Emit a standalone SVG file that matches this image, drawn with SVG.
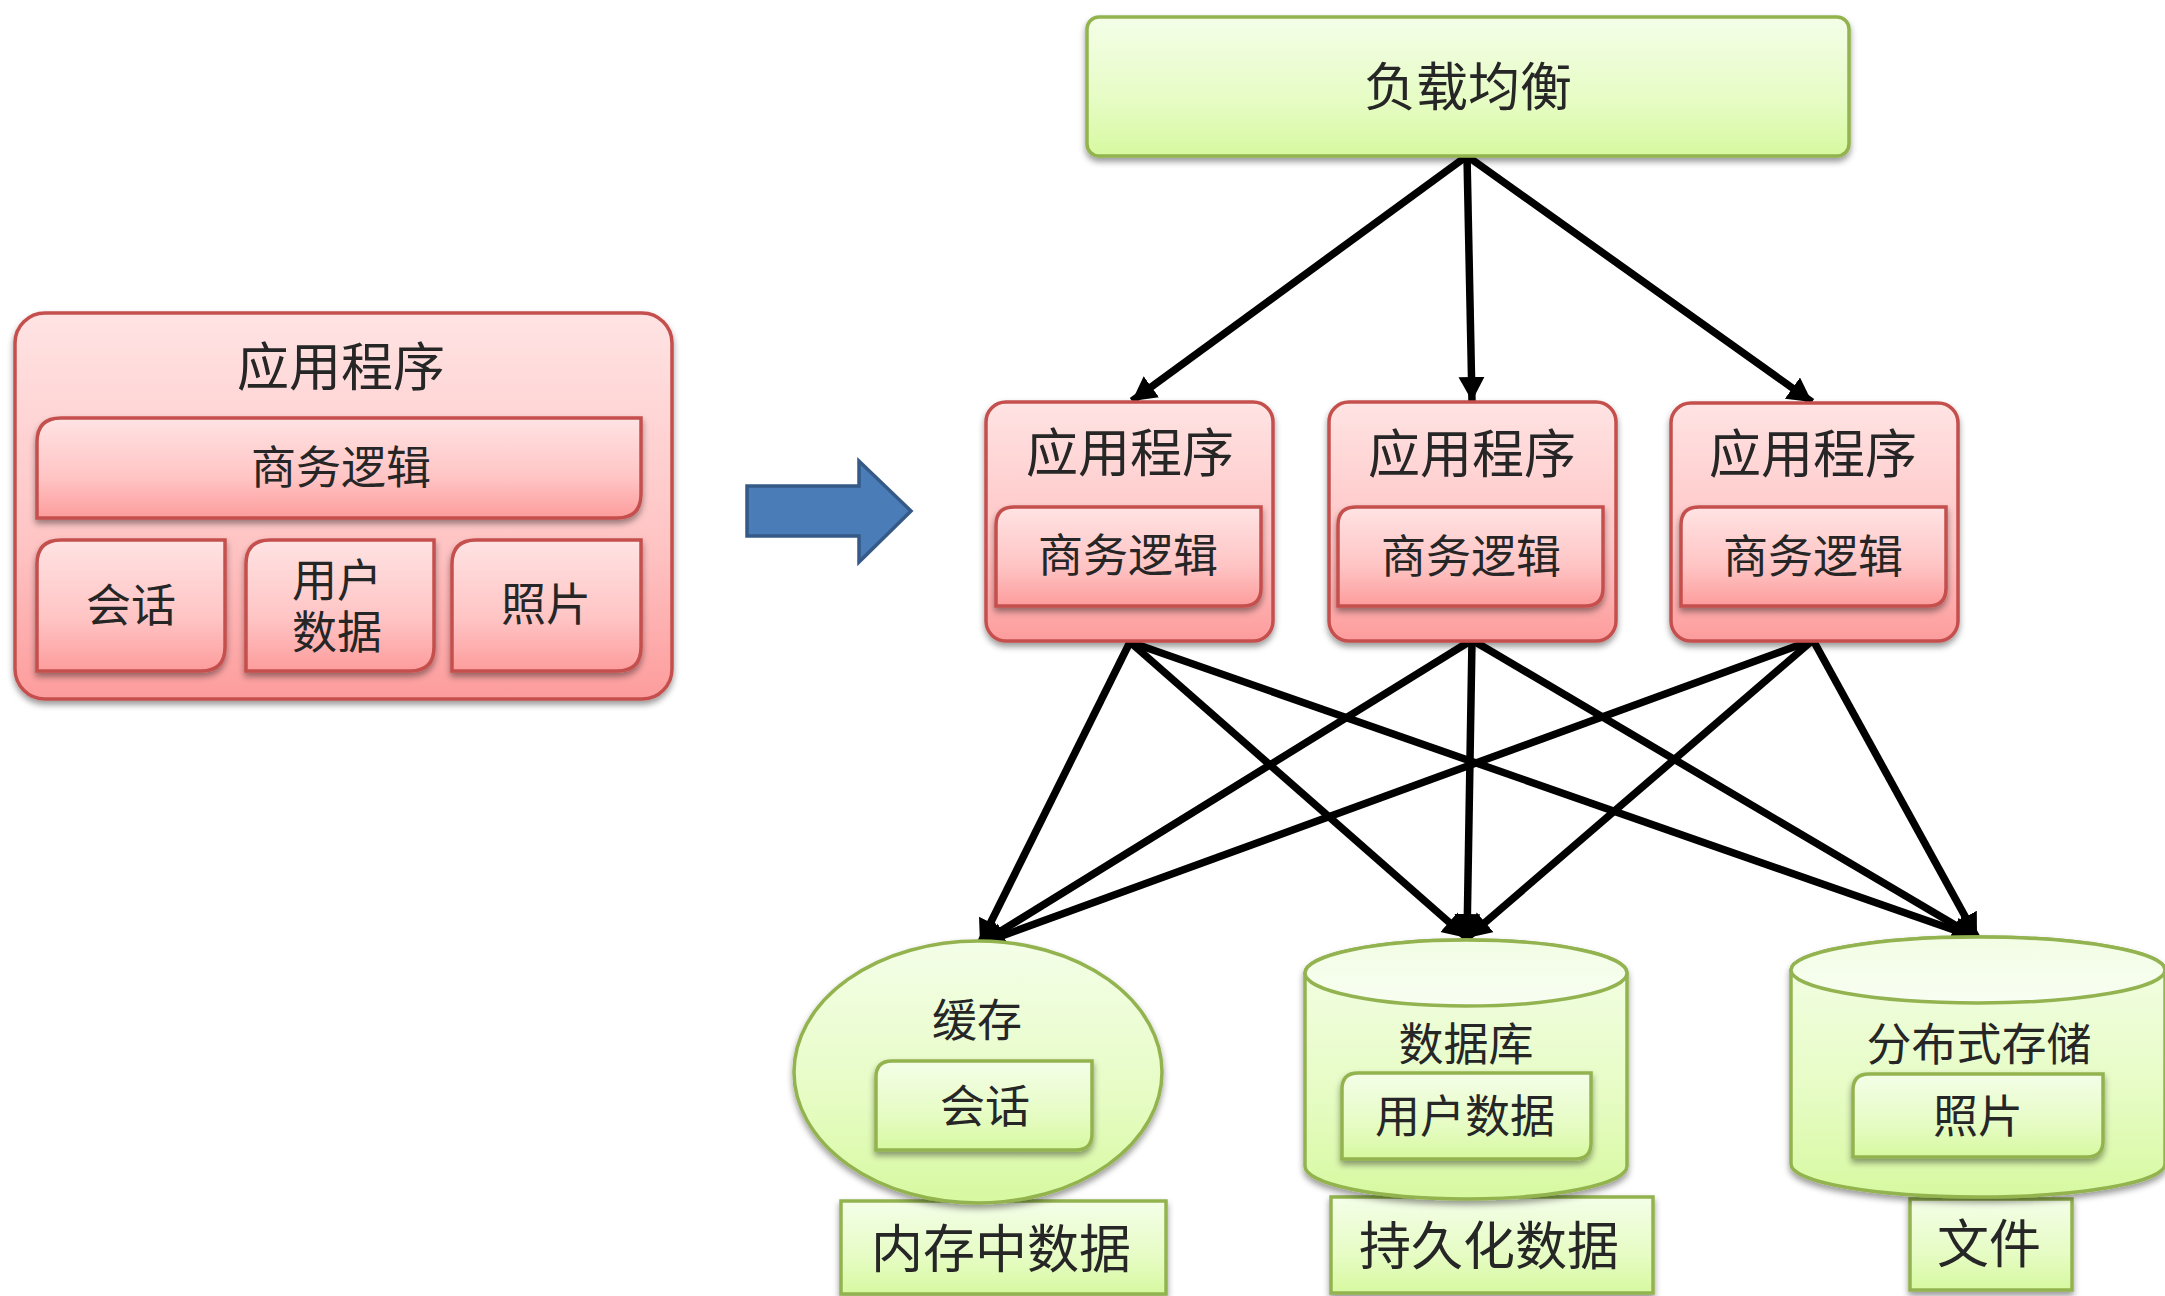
<svg xmlns="http://www.w3.org/2000/svg" width="2165" height="1296" viewBox="0 0 2165 1296">
<style>
text{font-family:"Noto Sans CJK SC","Liberation Sans",sans-serif;fill:#262626;text-anchor:middle;dominant-baseline:central;font-weight:400}
.t52{font-size:52px}.t45{font-size:45px}
.red{fill:url(#gr);stroke:#c4504e;stroke-width:3.5;filter:url(#sh)}
.grn{fill:url(#gg);stroke:#93b350;stroke-width:3.5;filter:url(#sh)}
.lid{fill:url(#gl);stroke:#93b350;stroke-width:3.5}
.c{stroke:#000;stroke-width:7.5;fill:none;marker-end:url(#ah)}
</style>
<defs>
<linearGradient id="gr" x1="0" y1="0" x2="0" y2="1"><stop offset="0" stop-color="#ffe3e3"/><stop offset=".6" stop-color="#ffc4c4"/><stop offset="1" stop-color="#fd9c9c"/></linearGradient>
<linearGradient id="gg" x1="0" y1="0" x2="0" y2="1"><stop offset="0" stop-color="#f4fee8"/><stop offset=".6" stop-color="#e6fcc4"/><stop offset="1" stop-color="#d7f9a0"/></linearGradient>
<linearGradient id="gl" x1="0" y1="0" x2="0" y2="1"><stop offset="0" stop-color="#f2fde4"/><stop offset="1" stop-color="#f8fef2"/></linearGradient>
<filter id="sh" x="-10%" y="-10%" width="120%" height="125%"><feDropShadow dx="0" dy="4" stdDeviation="3" flood-color="#000" flood-opacity=".4"/></filter>
<marker id="ah" markerUnits="userSpaceOnUse" markerWidth="28" markerHeight="28" refX="24" refY="13" orient="auto"><path d="M0 0L24 13L0 26Z" fill="#000"/></marker>
</defs>

<g id="connectors">
<line class="c" x1="1467" y1="156" x2="1132" y2="401"/>
<line class="c" x1="1467" y1="156" x2="1472" y2="401"/>
<line class="c" x1="1467" y1="156" x2="1812" y2="402"/>
<line class="c" x1="1130" y1="642" x2="980" y2="944"/>
<line class="c" x1="1130" y1="642" x2="1467" y2="938"/>
<line class="c" x1="1130" y1="642" x2="1977" y2="938"/>
<line class="c" x1="1472" y1="640" x2="980" y2="944"/>
<line class="c" x1="1472" y1="640" x2="1467" y2="938"/>
<line class="c" x1="1472" y1="640" x2="1977" y2="938"/>
<line class="c" x1="1813" y1="640" x2="980" y2="944"/>
<line class="c" x1="1813" y1="640" x2="1467" y2="938"/>
<line class="c" x1="1813" y1="640" x2="1977" y2="938"/>
</g>

<g id="monolith">
<rect class="red" x="15" y="313" width="657" height="386" rx="30"/>
<text class="t52" x="341" y="363">应用程序</text>
<path class="red" d="M61 418H641V494Q641 518 617 518H37V442Q37 418 61 418Z"/>
<text class="t45" x="341" y="464">商务逻辑</text>
<path class="red" d="M61 540H225V647Q225 671 201 671H37V564Q37 540 61 540Z"/>
<text class="t45" x="131" y="602">会话</text>
<path class="red" d="M270 540H434V647Q434 671 410 671H246V564Q246 540 270 540Z"/>
<text class="t45" x="337" y="577">用户<tspan x="337" dy="52">数据</tspan></text>
<path class="red" d="M476 540H641V647Q641 671 617 671H452V564Q452 540 476 540Z"/>
<text class="t45" x="546" y="601">照片</text>
</g>

<g id="transition-arrow">
<path d="M747 486H859V461L911 511L859 562V536H747Z" fill="#4a7cb8" stroke="#355a87" stroke-width="3.5"/>
</g>

<g id="load-balancer">
<rect class="grn" x="1087" y="17" width="762" height="139" rx="12"/>
<text class="t52" x="1468" y="83">负载均衡</text>
</g>

<g id="app-1">
<rect class="red" x="986" y="402" width="287" height="239" rx="20"/>
<text class="t52" x="1130" y="449">应用程序</text>
<path class="red" d="M1014 507H1261V588Q1261 606 1243 606H996V525Q996 507 1014 507Z"/>
<text class="t45" x="1128" y="552">商务逻辑</text>
</g>
<g id="app-2">
<rect class="red" x="1329" y="402" width="287" height="239" rx="20"/>
<text class="t52" x="1472" y="450">应用程序</text>
<path class="red" d="M1356 507H1603V588Q1603 606 1585 606H1338V525Q1338 507 1356 507Z"/>
<text class="t45" x="1471" y="553">商务逻辑</text>
</g>
<g id="app-3">
<rect class="red" x="1671" y="403" width="287" height="238" rx="20"/>
<text class="t52" x="1813" y="450">应用程序</text>
<path class="red" d="M1699 507H1946V588Q1946 606 1928 606H1681V525Q1681 507 1699 507Z"/>
<text class="t45" x="1813" y="553">商务逻辑</text>
</g>

<g id="memory-label">
<rect class="grn" x="841" y="1201" width="325" height="93"/>
<text class="t52" x="1001" y="1245">内存中数据</text>
</g>
<g id="persist-label">
<rect class="grn" x="1331" y="1197" width="322" height="96"/>
<text class="t52" x="1489" y="1242">持久化数据</text>
</g>
<g id="file-label">
<rect class="grn" x="1910" y="1199" width="162" height="91"/>
<text class="t52" x="1989" y="1240">文件</text>
</g>

<g id="cache">
<ellipse class="grn" cx="978" cy="1072" rx="184" ry="131"/>
<text class="t45" x="977" y="1017">缓存</text>
<path class="grn" d="M892 1061H1092V1134Q1092 1150 1076 1150H876V1077Q876 1061 892 1061Z"/>
<text class="t45" x="985" y="1103">会话</text>
</g>

<g id="database">
<path class="grn" d="M1305 973A161 33 0 0 1 1627 973V1166A161 33 0 0 1 1305 1166Z"/>
<ellipse class="lid" cx="1466" cy="973" rx="161" ry="33"/>
<text class="t45" x="1466" y="1041">数据库</text>
<path class="grn" d="M1358 1073H1591V1143Q1591 1159 1575 1159H1342V1089Q1342 1073 1358 1073Z"/>
<text class="t45" x="1465" y="1113">用户数据</text>
</g>

<g id="storage">
<path class="grn" d="M1791 970A187 33 0 0 1 2165 970V1164A187 33 0 0 1 1791 1164Z"/>
<ellipse class="lid" cx="1978" cy="970" rx="187" ry="33"/>
<text class="t45" x="1979" y="1041">分布式存储</text>
<path class="grn" d="M1869 1074H2103V1141Q2103 1157 2087 1157H1853V1090Q1853 1074 1869 1074Z"/>
<text class="t45" x="1978" y="1113">照片</text>
</g>
</svg>
